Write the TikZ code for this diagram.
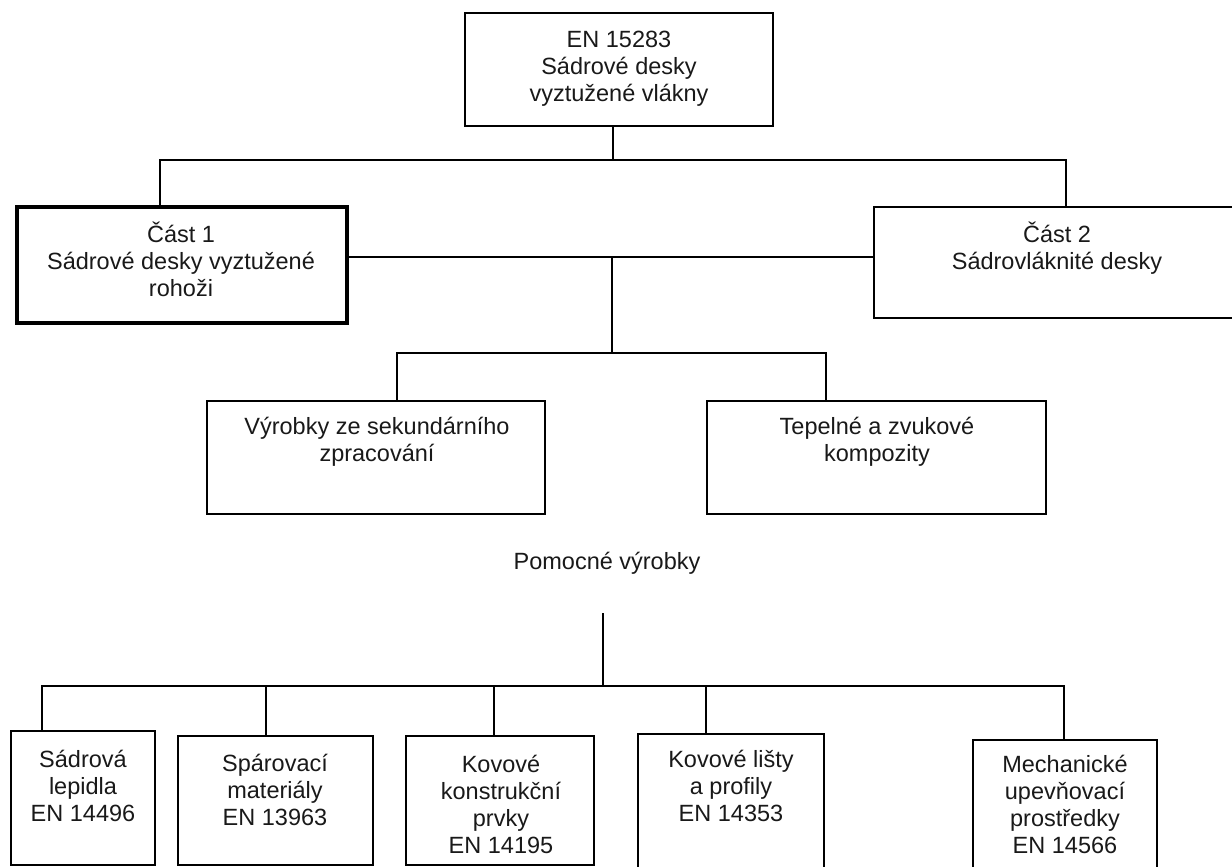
\documentclass[tikz,border=0pt]{standalone}
\usepackage{fontspec}
\setmainfont{Liberation Sans}
\newcommand{\firstln}{\rule{0pt}{22pt}}
\begin{document}
\begin{tikzpicture}[x=1pt,y=-1pt,
  box/.style={draw=black,line width=1.8pt,inner sep=0pt},
  thickbox/.style={draw=black,line width=3.2pt,inner sep=0pt},
  txt/.style={font=\fontsize{23.5}{27}\selectfont,align=center,anchor=north,inner sep=0pt,text=black!90},
  conn/.style={draw=black,line width=1.8pt}]
\useasboundingbox (0,0) rectangle (1232,867);
\fill[white] (0,0) rectangle (1232,867);

% boxes
\node[box,minimum width=308pt,minimum height=113pt] (top) at (619,69.5) {};
\node[thickbox,minimum width=330pt,minimum height=116pt] (p1) at (182,265) {};
\node[box,minimum width=366pt,minimum height=111pt] (p2) at (1057,262.5) {};
\node[box,minimum width=338pt,minimum height=113pt] (sec) at (376,457.5) {};
\node[box,minimum width=339pt,minimum height=113pt] (tep) at (876.5,457.5) {};
\node[box,minimum width=144pt,minimum height=134pt] (b1) at (83,798) {};
\node[box,minimum width=195pt,minimum height=129pt] (b2) at (275.5,800.5) {};
\node[box,minimum width=188pt,minimum height=129pt] (b3) at (500,800.5) {};
\node[box,minimum width=186pt,minimum height=141pt] (b4) at (731,804.5) {};
\node[box,minimum width=184pt,minimum height=135pt] (b5) at (1065,807.5) {};

% texts
\node[txt] (tTop) at (619,25) {\firstln EN 15283\\Sádrové desky\\vyztužené vlákny};
\node[txt] (tP1) at (181,220) {\firstln Část 1\\Sádrové desky vyztužené\\rohoži};
\node[txt] (tP2) at (1057,220) {\firstln Část 2\\Sádrovláknité desky};
\node[txt] (tSec) at (377,412) {\firstln Výrobky ze sekundárního\\zpracování};
\node[txt] (tTep) at (877,412) {\firstln Tepelné a zvukové\\kompozity};
\node[txt] (pom) at (607,547) {\firstln Pomocné výrobky};
\node[txt] (tB1) at (83,745) {\firstln Sádrová\\lepidla\\EN 14496};
\node[txt] (tB2) at (275,749) {\firstln Spárovací\\materiály\\EN 13963};
\node[txt] (tB3) at (501,750) {\firstln Kovové\\konstrukční\\prvky\\EN 14195};
\node[txt] (tB4) at (731,745) {\firstln Kovové lišty\\a profily\\EN 14353};
\node[txt] (tB5) at (1065,750) {\firstln Mechanické\\upevňovací\\prostředky\\EN 14566};

% junction coordinates
\coordinate (cT) at (613,160);
\coordinate (cL) at (160,160);
\coordinate (cR) at (1066,160);
\coordinate (cM) at (612,257);
\coordinate (cM2) at (612,353);
\coordinate (cS) at (397,353);
\coordinate (cTp) at (826,353);
\coordinate (cP) at (603,613);
\coordinate (cP2) at (603,686);
\coordinate (c1) at (42,686);
\coordinate (c2) at (266,686);
\coordinate (c3) at (494,686);
\coordinate (c4) at (706,686);
\coordinate (c5) at (1064,686);

% connectors
\draw[conn] (top.south -| cT) -- (cT);
\draw[conn] (p1.north -| cL) |- (cR) -- (p2.north -| cR);
\draw[conn] (p1.east |- cM) -- (p2.west |- cM);
\draw[conn] (cM) -- (cM2);
\draw[conn] (sec.north -| cS) |- (cTp) -- (tep.north -| cTp);
\draw[conn] (cP) -- (cP2);
\draw[conn] (b1.north -| c1) |- (c5) -- (b5.north -| c5);
\draw[conn] (c2) -- (b2.north -| c2);
\draw[conn] (c3) -- (b3.north -| c3);
\draw[conn] (c4) -- (b4.north -| c4);
\end{tikzpicture}
\end{document}
